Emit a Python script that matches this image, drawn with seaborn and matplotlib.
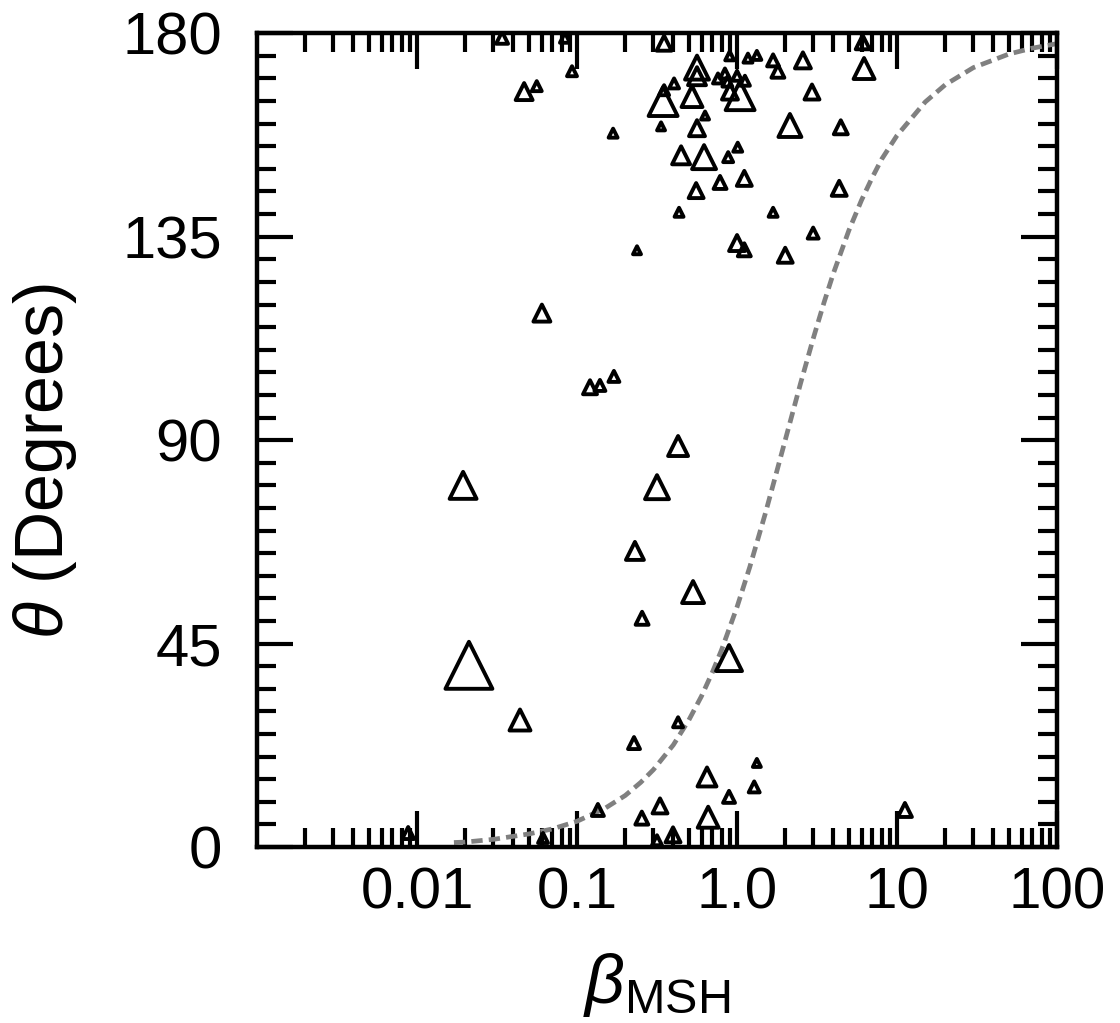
import numpy as np
import pandas as pd
import matplotlib
matplotlib.use("Agg")
import matplotlib.pyplot as plt
from matplotlib.ticker import FixedLocator, LogLocator, MultipleLocator, NullFormatter
import seaborn as sns

# Observed magnetosheath events: plasma beta, magnetic shear angle, symbol size
beta_msh = [0.034, 0.084, 0.093, 0.0467, 0.056, 0.168, 0.345, 0.35, 0.404, 0.335,
            0.35, 0.562, 0.562, 0.523, 0.631, 0.562, 0.76, 0.84, 0.87, 0.903,
            1.045, 1.12, 1.0, 0.9, 1.17, 1.33, 1.68, 1.8, 2.58, 2.94,
            2.14, 6.22, 6.1, 4.45, 4.35, 0.447, 0.622, 0.88, 1.01, 0.783,
            1.11, 0.555, 0.434, 1.68, 1.0, 1.11, 2.0, 0.237, 2.99, 0.0603,
            0.1205, 0.139, 0.17, 0.0194, 0.316, 0.428, 0.23, 0.531, 0.255, 0.0211,
            0.044, 0.891, 0.428, 0.227, 0.649, 1.33, 1.28, 0.891, 0.33, 0.135,
            0.254, 0.66, 0.398, 0.316, 11.2, 0.0088, 0.0613]
theta_deg = [179.0, 179.0, 171.6, 167.1, 168.3, 157.9, 164.9, 167.4, 168.9, 159.4,
             177.8, 172.4, 170.5, 166.0, 161.8, 159.0, 170.0, 171.1, 169.3, 167.1,
             166.2, 169.5, 170.6, 175.0, 174.5, 175.1, 174.0, 171.6, 174.0, 167.0,
             159.6, 172.2, 178.0, 159.2, 145.7, 153.0, 152.6, 152.6, 154.8, 147.0,
             147.9, 145.2, 140.4, 140.4, 133.6, 132.1, 130.9, 132.0, 135.8, 118.1,
             101.7, 102.1, 104.1, 80.0, 79.6, 88.7, 65.5, 56.4, 50.6, 40.2,
             28.1, 41.8, 27.6, 23.0, 15.5, 18.6, 13.3, 11.1, 9.1, 8.2,
             6.4, 6.6, 2.7, 1.5, 8.2, 3.1, 2.0]
symbol_size = [16, 14, 14, 21, 14, 13, 33, 14, 14, 12,
               19, 28, 22, 25, 12, 20, 14, 14, 14, 20,
               33, 14, 14, 13, 13, 13, 16, 17, 20, 19,
               27, 25, 18, 18, 19, 22, 28, 14, 13, 17,
               19, 19, 13, 13, 20, 17, 19, 12, 15, 21,
               18, 15, 15, 31, 28, 24, 22, 26, 17, 51,
               25, 30, 14, 16, 23, 12, 15, 16, 19, 16,
               17, 25, 19, 14, 18, 16, 14]

# Onset threshold curve
beta_curve = [0.017, 0.02, 0.03, 0.05, 0.07, 0.1, 0.15, 0.2, 0.25, 0.3, 0.4, 0.5,
              0.6, 0.7, 0.8, 1.0, 1.2, 1.5, 1.75, 2.0, 2.5, 3.0, 3.5, 4.0, 5.0,
              6.0, 7.0, 8.0, 10, 15, 20, 30, 50, 70, 100]
theta_curve = [1.0, 1.1, 1.7, 2.9, 4.0, 5.7, 8.6, 11.4, 14.3, 17.1, 22.6, 28.1,
               33.4, 38.6, 43.6, 53.1, 61.9, 73.7, 82.4, 90.0, 102.7, 112.6, 120.5, 126.9, 136.4,
               143.1, 148.1, 152.1, 157.4, 164.8, 168.6, 172.4, 175.4, 176.7, 177.7]

x_ticks = [0.01, 0.1, 1.0, 10, 100]
x_tick_labels = ["0.01", "0.1", "1.0", "10", "100"]
y_ticks = [0, 45, 90, 135, 180]

events = pd.DataFrame({"beta": beta_msh, "theta": theta_deg, "size": symbol_size})
curve = pd.DataFrame({"beta": beta_curve, "theta": theta_curve})

sns.set_theme(style="ticks")
plt.rcParams["font.family"] = ["Liberation Sans", "DejaVu Sans"]
plt.rcParams["mathtext.fontset"] = "custom"
plt.rcParams["mathtext.rm"] = "Liberation Sans"
plt.rcParams["mathtext.it"] = "Liberation Sans:italic"
for key in ["text.color", "axes.labelcolor", "xtick.color", "ytick.color",
            "xtick.labelcolor", "ytick.labelcolor", "axes.edgecolor"]:
    plt.rcParams[key] = "black"

fig = plt.figure(figsize=(11.2, 10.23), dpi=100)
ax = fig.add_axes([0.2295, 0.172, 0.7143, 0.7955])

sns.lineplot(data=curve, x="beta", y="theta", ax=ax, color="#808080",
             linewidth=3.4, linestyle=(0, (2.4, 1.3)), estimator=None,
             sort=True, zorder=2)

# symbol width (px) -> marker area (pt^2)
size_map = {w: ((w - 4.0) * 0.72) ** 2 for w in sorted(set(symbol_size))}
sns.scatterplot(data=events, x="beta", y="theta", size="size", sizes=size_map,
                marker="^", facecolor="none", edgecolor="black", linewidth=2.8,
                legend=False, ax=ax, zorder=3)
for coll in ax.collections:
    coll.set_facecolor("none")

ax.set_xscale("log")
ax.set_xlim(0.001, 100)
ax.set_ylim(0, 180)

ax.xaxis.set_major_locator(FixedLocator(x_ticks))
ax.set_xticklabels(x_tick_labels)
ax.xaxis.set_minor_locator(LogLocator(base=10, subs=np.arange(2, 10), numticks=20))
ax.xaxis.set_minor_formatter(NullFormatter())
ax.set_yticks(y_ticks)
ax.yaxis.set_minor_locator(MultipleLocator(5))

for side in ax.spines.values():
    side.set_linewidth(3.2)
    side.set_color("black")
    side.set_visible(True)

ax.tick_params(which="both", direction="in", top=True, right=True,
               width=3.0, color="black")
ax.tick_params(which="major", length=26)
ax.tick_params(which="minor", length=14)
ax.tick_params(axis="x", which="major", labelsize=42, pad=14)
ax.tick_params(axis="y", which="major", labelsize=43, pad=25)

ax.set_xlabel(r"$\beta_{\mathrm{MSH}}$", fontsize=50, labelpad=22)
ax.set_ylabel(r"$\theta$ (Degrees)", fontsize=49)
ax.yaxis.set_label_coords(-0.223, 0.474)
ax.grid(False)

fig.savefig("out.png", dpi=100, facecolor="white")
